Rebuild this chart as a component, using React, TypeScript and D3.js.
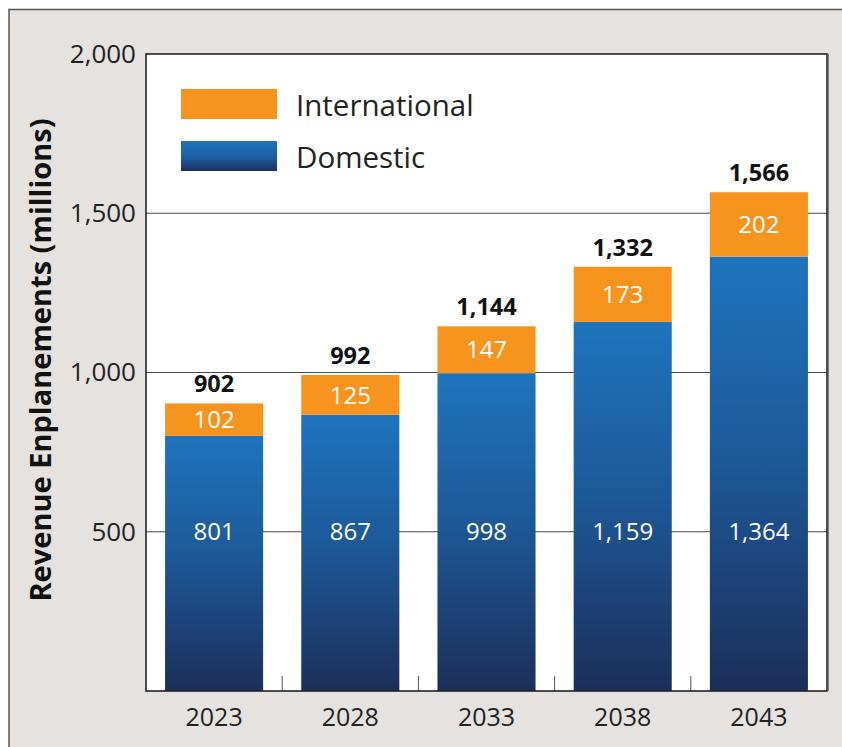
import React from "react";
import * as d3 from "d3";

const years = ["2023", "2028", "2033", "2038", "2043"];
const domestic = [801, 867, 998, 1159, 1364];
const international = [102, 125, 147, 173, 202];
const totals = [902, 992, 1144, 1332, 1566];
const yTicks = [500, 1000, 1500, 2000];
const legendLabels = ["International", "Domestic"];

const W = 842;
const H = 747;
const plot = { left: 146, top: 54, right: 827, bottom: 691 };
const FONT = "'Open Sans', 'Noto Sans', sans-serif";
const ORANGE = "#f7941d";
const fmt = d3.format(",");

export default function App() {
  const y = d3.scaleLinear().domain([0, 2000]).range([plot.bottom, plot.top]);
  const x = d3
    .scaleBand<string>()
    .domain(years)
    .range([plot.left, plot.right])
    .paddingInner(0.28)
    .paddingOuter(0.14);
  const bw = x.bandwidth();
  const step = x.step();

  return (
    <svg
      width={W}
      height={H}
      style={{ position: "absolute", left: 0, top: 0, display: "block" }}
      fontFamily={FONT}
    >
      <defs>
        <linearGradient id="domGrad" x1="0" y1="0" x2="0" y2="1">
          <stop offset="0%" stopColor="#1e74bd" />
          <stop offset="45%" stopColor="#1d5a9a" />
          <stop offset="100%" stopColor="#1c2e5a" />
        </linearGradient>
        <linearGradient id="legGrad" x1="0" y1="0" x2="0" y2="1">
          <stop offset="0%" stopColor="#1e74bd" />
          <stop offset="55%" stopColor="#1d5fa3" />
          <stop offset="100%" stopColor="#1c2e5a" />
        </linearGradient>
      </defs>

      {/* page panel */}
      <rect x={0} y={0} width={W} height={H} fill="#ffffff" />
      <rect x={9} y={9.5} width={W + 20} height={H + 20} fill="#e5e2df" stroke="#555" strokeWidth={1.5} />

      {/* plot area */}
      <rect x={plot.left} y={plot.top} width={plot.right - plot.left} height={plot.bottom - plot.top} fill="#ffffff" />

      {/* gridlines */}
      {yTicks.slice(0, -1).map((t) => (
        <line key={t} x1={plot.left} x2={plot.right} y1={y(t)} y2={y(t)} stroke="#4a4a4a" strokeWidth={1.2} />
      ))}

      {/* bars */}
      {years.map((yr, i) => {
        const x0 = x(yr)!;
        const dTop = y(domestic[i]);
        const iTop = y(domestic[i] + international[i]);
        const cx = x0 + bw / 2;
        return (
          <g key={yr}>
            <rect x={x0} y={dTop} width={bw} height={plot.bottom - dTop} fill="url(#domGrad)" />
            <rect x={x0} y={iTop} width={bw} height={dTop - iTop} fill={ORANGE} />
            <text x={cx} y={(iTop + dTop) / 2} dy="0.36em" textAnchor="middle" fill="#ffffff" fontSize={24}>
              {fmt(international[i])}
            </text>
            <text x={cx} y={y(500)} dy="0.36em" textAnchor="middle" fill="#ffffff" fontSize={24}>
              {fmt(domestic[i])}
            </text>
            <text x={cx} y={iTop - 11} textAnchor="middle" fill="#111" fontSize={23.5} fontWeight={700}>
              {fmt(totals[i])}
            </text>
          </g>
        );
      })}

      {/* bottom ticks between categories */}
      {years.slice(1).map((yr) => {
        const tx = x(yr)! - (step - bw) / 2;
        return <line key={yr} x1={tx} x2={tx} y1={plot.bottom - 15} y2={plot.bottom} stroke="#555" strokeWidth={1} />;
      })}

      {/* plot frame */}
      <rect
        x={plot.left}
        y={plot.top}
        width={plot.right - plot.left}
        height={plot.bottom - plot.top}
        fill="none"
        stroke="#222"
        strokeWidth={1.6}
      />
      <line x1={plot.right + 1} x2={plot.right + 1} y1={plot.top} y2={plot.bottom} stroke="#555" strokeWidth={1.5} />

      {/* y axis labels */}
      {yTicks.map((t) => (
        <text key={t} x={136} y={y(t)} dy="0.34em" textAnchor="end" fill="#222" fontSize={26}>
          {fmt(t)}
        </text>
      ))}

      {/* x axis labels */}
      {years.map((yr) => (
        <text key={yr} x={x(yr)! + bw / 2} y={717} dy="0.36em" textAnchor="middle" fill="#222" fontSize={25}>
          {yr}
        </text>
      ))}

      {/* y axis title */}
      <text
        transform={`translate(41, 360) rotate(-90)`}
        textAnchor="middle"
        dy="0.36em"
        fill="#111"
        fontSize={29}
        fontWeight={700}
      >
        Revenue Enplanements (millions)
      </text>

      {/* legend */}
      <rect x={181} y={89} width={96} height={30} fill={ORANGE} />
      <rect x={181} y={141} width={96} height={30} fill="url(#legGrad)" />
      <text x={296} y={105} dy="0.36em" fill="#222" fontSize={29.5}>
        {legendLabels[0]}
      </text>
      <text x={296} y={157} dy="0.36em" fill="#222" fontSize={29.5}>
        {legendLabels[1]}
      </text>
    </svg>
  );
}
